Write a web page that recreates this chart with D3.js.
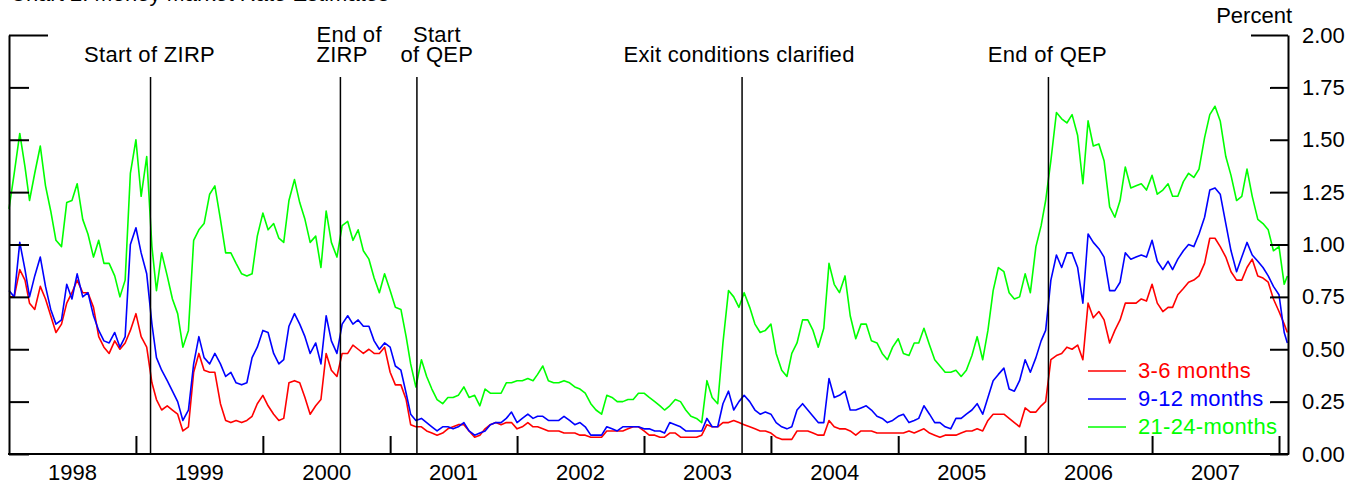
<!DOCTYPE html>
<html>
<head>
<meta charset="utf-8">
<script src="https://cdn.jsdelivr.net/npm/d3@7"></script>
<style>
  body { margin: 0; background: #fff; }
  svg text { font-family: "Liberation Sans", Arial, sans-serif; }
</style>
</head>
<body>
<div id="chart"></div>
<script>
// half-monthly readings, Jan 1998 - Jan 2008
var dates = [
"1998-01-01","1998-01-16","1998-02-01","1998-02-16","1998-03-01","1998-03-16","1998-04-01","1998-04-16","1998-05-01","1998-05-16","1998-06-01","1998-06-16","1998-07-01","1998-07-16","1998-08-01","1998-08-16","1998-09-01","1998-09-16","1998-10-01","1998-10-16","1998-11-01","1998-11-16","1998-12-01","1998-12-16",
"1999-01-01","1999-01-16","1999-02-01","1999-02-16","1999-03-01","1999-03-16","1999-04-01","1999-04-16","1999-05-01","1999-05-16","1999-06-01","1999-06-16","1999-07-01","1999-07-16","1999-08-01","1999-08-16","1999-09-01","1999-09-16","1999-10-01","1999-10-16","1999-11-01","1999-11-16","1999-12-01","1999-12-16",
"2000-01-01","2000-01-16","2000-02-01","2000-02-16","2000-03-01","2000-03-16","2000-04-01","2000-04-16","2000-05-01","2000-05-16","2000-06-01","2000-06-16","2000-07-01","2000-07-16","2000-08-01","2000-08-16","2000-09-01","2000-09-16","2000-10-01","2000-10-16","2000-11-01","2000-11-16","2000-12-01","2000-12-16",
"2001-01-01","2001-01-16","2001-02-01","2001-02-16","2001-03-01","2001-03-16","2001-04-01","2001-04-16","2001-05-01","2001-05-16","2001-06-01","2001-06-16","2001-07-01","2001-07-16","2001-08-01","2001-08-16","2001-09-01","2001-09-16","2001-10-01","2001-10-16","2001-11-01","2001-11-16","2001-12-01","2001-12-16",
"2002-01-01","2002-01-16","2002-02-01","2002-02-16","2002-03-01","2002-03-16","2002-04-01","2002-04-16","2002-05-01","2002-05-16","2002-06-01","2002-06-16","2002-07-01","2002-07-16","2002-08-01","2002-08-16","2002-09-01","2002-09-16","2002-10-01","2002-10-16","2002-11-01","2002-11-16","2002-12-01","2002-12-16",
"2003-01-01","2003-01-16","2003-02-01","2003-02-16","2003-03-01","2003-03-16","2003-04-01","2003-04-16","2003-05-01","2003-05-16","2003-06-01","2003-06-16","2003-07-01","2003-07-16","2003-08-01","2003-08-16","2003-09-01","2003-09-16","2003-10-01","2003-10-16","2003-11-01","2003-11-16","2003-12-01","2003-12-16",
"2004-01-01","2004-01-16","2004-02-01","2004-02-16","2004-03-01","2004-03-16","2004-04-01","2004-04-16","2004-05-01","2004-05-16","2004-06-01","2004-06-16","2004-07-01","2004-07-16","2004-08-01","2004-08-16","2004-09-01","2004-09-16","2004-10-01","2004-10-16","2004-11-01","2004-11-16","2004-12-01","2004-12-16",
"2005-01-01","2005-01-16","2005-02-01","2005-02-16","2005-03-01","2005-03-16","2005-04-01","2005-04-16","2005-05-01","2005-05-16","2005-06-01","2005-06-16","2005-07-01","2005-07-16","2005-08-01","2005-08-16","2005-09-01","2005-09-16","2005-10-01","2005-10-16","2005-11-01","2005-11-16","2005-12-01","2005-12-16",
"2006-01-01","2006-01-16","2006-02-01","2006-02-16","2006-03-01","2006-03-16","2006-04-01","2006-04-16","2006-05-01","2006-05-16","2006-06-01","2006-06-16","2006-07-01","2006-07-16","2006-08-01","2006-08-16","2006-09-01","2006-09-16","2006-10-01","2006-10-16","2006-11-01","2006-11-16","2006-12-01","2006-12-16",
"2007-01-01","2007-01-16","2007-02-01","2007-02-16","2007-03-01","2007-03-16","2007-04-01","2007-04-16","2007-05-01","2007-05-16","2007-06-01","2007-06-16","2007-07-01","2007-07-16","2007-08-01","2007-08-16","2007-09-01","2007-09-16","2007-10-01","2007-10-16","2007-11-01","2007-11-16","2007-12-01","2007-12-16",
"2008-01-01","2008-01-16","2008-01-25"
];

var m3to6 = [
0.75,0.75,0.88,0.83,0.72,0.69,0.80,0.74,0.66,0.58,0.62,0.72,0.77,0.83,0.77,0.77,0.70,0.56,0.51,0.48,0.54,0.50,0.53,0.59,
0.67,0.56,0.51,0.34,0.26,0.21,0.23,0.21,0.19,0.11,0.13,0.39,0.48,0.40,0.39,0.39,0.24,0.16,0.15,0.16,0.15,0.16,0.18,0.24,
0.28,0.23,0.19,0.16,0.17,0.34,0.35,0.34,0.27,0.19,0.23,0.26,0.48,0.40,0.37,0.48,0.48,0.52,0.50,0.48,0.50,0.48,0.48,0.51,
0.39,0.33,0.33,0.26,0.14,0.13,0.13,0.11,0.10,0.09,0.10,0.12,0.13,0.14,0.14,0.11,0.08,0.09,0.12,0.14,0.15,0.14,0.15,0.15,
0.12,0.13,0.15,0.13,0.13,0.12,0.11,0.11,0.11,0.10,0.10,0.10,0.09,0.09,0.08,0.08,0.08,0.11,0.11,0.11,0.11,0.12,0.13,0.13,
0.11,0.09,0.09,0.08,0.08,0.10,0.10,0.08,0.08,0.08,0.08,0.09,0.14,0.13,0.13,0.15,0.15,0.16,0.15,0.14,0.13,0.12,0.11,0.11,
0.10,0.08,0.07,0.07,0.07,0.11,0.11,0.11,0.10,0.09,0.09,0.16,0.13,0.12,0.12,0.11,0.09,0.11,0.11,0.11,0.10,0.10,0.10,0.10,
0.10,0.10,0.11,0.10,0.11,0.12,0.10,0.09,0.08,0.09,0.09,0.09,0.10,0.11,0.11,0.12,0.11,0.16,0.19,0.19,0.19,0.17,0.15,0.13,
0.22,0.20,0.20,0.23,0.25,0.45,0.47,0.48,0.51,0.50,0.52,0.45,0.72,0.65,0.68,0.64,0.53,0.59,0.64,0.72,0.72,0.72,0.74,0.73,
0.81,0.72,0.68,0.70,0.70,0.76,0.79,0.82,0.83,0.85,0.91,1.03,1.03,0.99,0.94,0.87,0.83,0.83,0.89,0.93,0.85,0.84,0.82,0.74,
0.68,0.62,0.58
];

var m9to12 = [
0.78,0.75,1.01,0.88,0.75,0.85,0.94,0.80,0.69,0.62,0.64,0.81,0.74,0.86,0.75,0.77,0.66,0.59,0.54,0.53,0.58,0.51,0.56,1.00,
1.08,0.96,0.86,0.62,0.46,0.40,0.35,0.30,0.25,0.16,0.21,0.43,0.56,0.46,0.43,0.48,0.43,0.37,0.39,0.34,0.33,0.34,0.46,0.51,
0.59,0.58,0.48,0.43,0.45,0.61,0.67,0.62,0.56,0.48,0.53,0.43,0.66,0.54,0.48,0.62,0.66,0.62,0.64,0.61,0.61,0.54,0.50,0.53,
0.51,0.42,0.40,0.29,0.19,0.16,0.17,0.15,0.13,0.11,0.13,0.13,0.12,0.13,0.15,0.11,0.09,0.10,0.11,0.14,0.15,0.15,0.17,0.20,
0.15,0.17,0.19,0.17,0.18,0.18,0.16,0.16,0.16,0.18,0.16,0.14,0.15,0.13,0.09,0.09,0.09,0.13,0.12,0.11,0.13,0.13,0.13,0.13,
0.12,0.12,0.11,0.11,0.10,0.15,0.14,0.13,0.11,0.11,0.11,0.11,0.17,0.13,0.13,0.24,0.30,0.21,0.25,0.28,0.25,0.21,0.19,0.20,
0.19,0.15,0.13,0.12,0.13,0.21,0.24,0.21,0.18,0.15,0.15,0.36,0.27,0.28,0.30,0.21,0.21,0.22,0.23,0.21,0.18,0.17,0.15,0.16,
0.18,0.19,0.15,0.16,0.17,0.23,0.19,0.15,0.15,0.13,0.12,0.17,0.17,0.19,0.21,0.24,0.19,0.27,0.35,0.38,0.41,0.31,0.30,0.35,
0.45,0.39,0.46,0.54,0.59,0.83,0.95,0.89,0.96,0.96,0.89,0.72,1.05,1.01,0.98,0.94,0.78,0.78,0.82,0.96,0.93,0.94,0.95,0.94,
1.02,0.92,0.88,0.92,0.88,0.93,0.97,1.00,0.99,1.05,1.13,1.26,1.27,1.24,1.10,0.97,0.87,0.94,1.01,0.95,0.92,0.89,0.85,0.80,
0.76,0.58,0.53
];

var m21to24 = [
1.17,1.34,1.53,1.37,1.21,1.34,1.47,1.28,1.16,1.02,0.99,1.20,1.21,1.29,1.12,1.05,0.94,1.02,0.91,0.91,0.85,0.75,0.83,1.34,
1.50,1.23,1.42,0.99,0.78,0.96,0.85,0.74,0.67,0.51,0.59,1.02,1.07,1.10,1.24,1.28,1.12,0.96,0.96,0.91,0.86,0.85,0.86,1.04,
1.15,1.07,1.10,1.03,1.01,1.21,1.31,1.20,1.12,1.01,1.04,0.89,1.16,1.01,0.94,1.09,1.11,1.02,1.07,0.97,0.93,0.84,0.77,0.86,
0.78,0.70,0.69,0.56,0.43,0.32,0.45,0.37,0.31,0.26,0.24,0.27,0.27,0.28,0.32,0.27,0.28,0.23,0.31,0.29,0.29,0.29,0.34,0.34,
0.35,0.35,0.36,0.35,0.38,0.42,0.35,0.34,0.34,0.35,0.34,0.32,0.31,0.29,0.24,0.21,0.19,0.28,0.27,0.25,0.25,0.26,0.26,0.29,
0.29,0.27,0.25,0.23,0.21,0.23,0.26,0.25,0.21,0.18,0.17,0.15,0.35,0.27,0.24,0.53,0.78,0.75,0.70,0.77,0.70,0.62,0.58,0.59,
0.62,0.48,0.40,0.37,0.48,0.53,0.64,0.64,0.59,0.51,0.60,0.91,0.81,0.77,0.85,0.66,0.55,0.62,0.62,0.54,0.53,0.48,0.45,0.51,
0.55,0.48,0.47,0.53,0.53,0.60,0.52,0.45,0.42,0.39,0.39,0.40,0.37,0.40,0.47,0.56,0.45,0.59,0.78,0.89,0.87,0.77,0.74,0.75,
0.86,0.77,0.99,1.09,1.21,1.40,1.63,1.60,1.58,1.62,1.52,1.29,1.59,1.47,1.48,1.40,1.18,1.13,1.21,1.37,1.27,1.28,1.29,1.26,
1.33,1.24,1.26,1.29,1.23,1.23,1.30,1.34,1.32,1.36,1.51,1.62,1.66,1.59,1.42,1.33,1.21,1.23,1.36,1.23,1.12,1.10,1.07,0.97,
0.99,0.81,0.85
];

var seriesNames = ["3-6 months", "9-12 months", "21-24-months"];
var seriesColors = ["#ff0000", "#0000ff", "#00ff00"];

var yearLabels = [1998, 1999, 2000, 2001, 2002, 2003, 2004, 2005, 2006, 2007];
var yTicks = [0, 0.25, 0.5, 0.75, 1, 1.25, 1.5, 1.75, 2];

var eventDates = ["1999-02-12", "2000-08-11", "2001-03-19", "2003-10-10", "2006-03-09"];
var eventLabels = [["Start of ZIRP"], ["End of", "ZIRP"], ["Start", "of QEP"], ["Exit conditions clarified"], ["End of QEP"]];

var svgWidth = 1349;
var svgHeight = 486;

var svg = d3.select("#chart").append("svg")
  .attr("width", svgWidth)
  .attr("height", svgHeight);

var parse = d3.timeParse("%Y-%m-%d");

var xScale = d3.scaleTime()
  .domain([new Date(1998, 0, 1), new Date(2008, 0, 1)])
  .range([9, 1279]);

var yScale = d3.scaleLinear()
  .domain([0, 2])
  .range([454, 35]);

var plotRight = 1288;

// title (cut off at the top of the picture)
svg.append("text")
  .attr("x", 10)
  .attr("y", 1)
  .attr("font-size", "22px")
  .attr("fill", "#000")
  .text("Chart 2: Money Market Rate Estimates");

// series lines
var line = d3.line()
  .x((d, i) => xScale(parse(dates[i])))
  .y(d => yScale(d));

[m3to6, m9to12, m21to24].forEach(function(vals, k) {
  svg.append("path")
    .datum(vals)
    .attr("fill", "none")
    .attr("stroke", seriesColors[k])
    .attr("stroke-width", 1.6)
    .attr("stroke-linejoin", "round")
    .attr("d", line);
});

// event lines and labels
var labelAnchor = ["middle", "start", "middle", "middle", "middle"];
var labelDx = [-1, -24, 20, -3, -1];

eventDates.forEach(function(ds, k) {
  var ex = xScale(parse(ds));
  svg.append("line")
    .attr("x1", ex).attr("x2", ex)
    .attr("y1", 77).attr("y2", 454)
    .attr("stroke", "#000")
    .attr("stroke-width", 1.5);

  var lines = eventLabels[k];
  lines.forEach(function(t, j) {
    svg.append("text")
      .attr("x", ex + labelDx[k])
      .attr("y", 62 - (lines.length - 1 - j) * 20)
      .attr("text-anchor", labelAnchor[k])
      .attr("font-size", "22px")
      .style("letter-spacing", "0.3px")
      .attr("fill", "#000")
      .text(t);
  });
});

// left axis: inward ticks, no labels
var leftAxis = svg.append("g")
  .attr("transform", "translate(9,0)")
  .call(d3.axisLeft(yScale).tickValues(yTicks).tickSizeInner(-20).tickSizeOuter(0).tickFormat(""));
leftAxis.selectAll(".tick line").filter(d => d === 2).attr("x2", 39);

// right axis with labels
var rightAxis = svg.append("g")
  .attr("transform", `translate(${plotRight},0)`)
  .call(d3.axisRight(yScale).tickValues(yTicks).tickSizeInner(-18).tickSizeOuter(0)
    .tickPadding(14).tickFormat(d3.format(".2f")));
rightAxis.selectAll(".tick line").filter(d => d === 2).attr("x2", -37);
rightAxis.selectAll("text")
  .attr("font-size", "22px")
  .attr("fill", "#000")
  .style("font-family", "'Liberation Sans', Arial, sans-serif");

// bottom axis: year boundary ticks
var yearEnds = yearLabels.map(y => new Date(y + 1, 0, 1));
var bottomAxis = svg.append("g")
  .attr("transform", "translate(0,454)")
  .call(d3.axisBottom(xScale).tickValues(yearEnds).tickSizeInner(-18).tickSizeOuter(0).tickFormat(""));
bottomAxis.select(".domain").remove();

svg.append("line")
  .attr("x1", 8).attr("x2", plotRight + 1)
  .attr("y1", 454).attr("y2", 454)
  .attr("stroke", "#000")
  .attr("stroke-width", 2);

// year labels centred in each year
var midYears = yearLabels.map(y => new Date(y, 6, 1));
var labelAxis = svg.append("g")
  .attr("transform", "translate(0,454)")
  .call(d3.axisBottom(xScale).tickValues(midYears).tickSize(0).tickPadding(10).tickFormat(d3.timeFormat("%Y")));
labelAxis.select(".domain").remove();
labelAxis.selectAll("text")
  .attr("font-size", "22px")
  .attr("fill", "#000")
  .style("font-family", "'Liberation Sans', Arial, sans-serif");

[leftAxis, rightAxis, bottomAxis].forEach(function(g) {
  g.selectAll("line").attr("stroke", "#000").attr("stroke-width", 2);
  g.selectAll(".domain").attr("stroke", "#000").attr("stroke-width", 2);
});

// unit label
svg.append("text")
  .attr("x", 1292)
  .attr("y", 23)
  .attr("text-anchor", "end")
  .attr("font-size", "22px")
  .attr("fill", "#000")
  .text("Percent");

// legend
seriesNames.forEach(function(name, k) {
  var ly = 371 + k * 28;
  svg.append("line")
    .attr("x1", 1088).attr("x2", 1126)
    .attr("y1", ly).attr("y2", ly)
    .attr("stroke", seriesColors[k])
    .attr("stroke-width", 1.5);
  svg.append("text")
    .attr("x", 1138)
    .attr("y", ly + 6.5)
    .attr("font-size", "22px")
    .style("letter-spacing", "0.3px")
    .attr("fill", seriesColors[k])
    .text(name);
});
</script>
</body>
</html>
